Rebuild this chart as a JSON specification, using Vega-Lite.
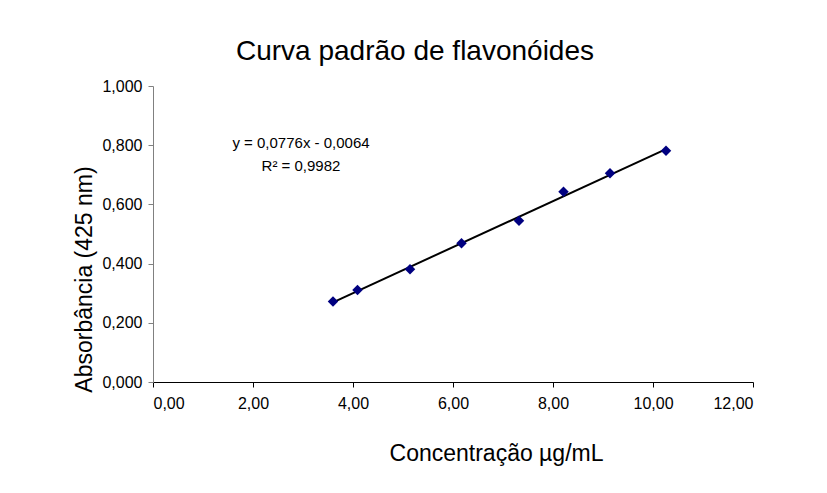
{
  "$schema": "https://vega.github.io/schema/vega-lite/v6.json",
  "autosize": {"type": "none"},
  "padding": {"left": 153, "top": 86, "right": 74, "bottom": 111},
  "width": 600,
  "height": 296,
  "background": "white",
  "title": {
    "text": "Curva padrão de flavonóides",
    "font": "Liberation Sans",
    "fontSize": 28,
    "fontWeight": "normal",
    "color": "#000000",
    "anchor": "middle",
    "dx": -38,
    "offset": 12
  },
  "data": {
    "values": [
      {"conc": 3.60, "abs": 0.272},
      {"conc": 4.09, "abs": 0.311},
      {"conc": 5.14, "abs": 0.381},
      {"conc": 6.17, "abs": 0.469},
      {"conc": 7.32, "abs": 0.545},
      {"conc": 8.21, "abs": 0.643},
      {"conc": 9.14, "abs": 0.705},
      {"conc": 10.26, "abs": 0.781}
    ]
  },
  "config": {
    "view": {"stroke": null},
    "axis": {
      "labelFont": "Liberation Sans",
      "titleFont": "Liberation Sans",
      "labelColor": "#000000",
      "titleColor": "#000000",
      "titleFontWeight": "normal",
      "grid": false,
      "tickSize": 5
    }
  },
  "layer": [
    {
      "transform": [{"regression": "abs", "on": "conc"}],
      "mark": {"type": "line", "color": "#000000", "strokeWidth": 2},
      "encoding": {
        "x": {"field": "conc", "type": "quantitative"},
        "y": {"field": "abs", "type": "quantitative"}
      }
    },
    {
      "mark": {"type": "point", "shape": "diamond", "filled": true, "color": "#000080", "size": 110, "opacity": 1},
      "encoding": {
        "x": {
          "field": "conc",
          "type": "quantitative",
          "scale": {"domain": [0, 12], "nice": false, "zero": true},
          "axis": {
            "values": [0, 2, 4, 6, 8, 10, 12],
            "labelExpr": "replace(format(datum.value, '.2f'), '.', ',')",
            "labelFontSize": 16,
            "labelPadding": 8,
            "domainColor": "#000000",
            "tickColor": "#000000",
            "title": "Concentração µg/mL",
            "titleFontSize": 23,
            "titleX": 343,
            "titleY": 78,
            "titleAlign": "center",
            "titleBaseline": "alphabetic"
          }
        },
        "y": {
          "field": "abs",
          "type": "quantitative",
          "scale": {"domain": [0, 1], "nice": false},
          "axis": {
            "values": [0, 0.2, 0.4, 0.6, 0.8, 1.0],
            "labelExpr": "replace(format(datum.value, '.3f'), '.', ',')",
            "labelFontSize": 16,
            "labelPadding": 6,
            "domainColor": "#808080",
            "tickColor": "#808080",
            "title": "Absorbância (425 nm)",
            "titleFontSize": 23,
            "titleX": -62,
            "titleY": 193,
            "titleAngle": -90,
            "titleAlign": "center",
            "titleBaseline": "alphabetic"
          }
        }
      }
    },
    {
      "data": {"values": [{"eq": "y = 0,0776x  - 0,0064", "r2": "R² = 0,9982"}]},
      "mark": {
        "type": "text",
        "font": "Liberation Sans",
        "fontSize": 15,
        "fontWeight": "normal",
        "color": "#000000",
        "align": "center",
        "baseline": "alphabetic",
        "lineHeight": 23
      },
      "encoding": {
        "x": {"datum": 2.96},
        "y": {"datum": 0.79},
        "text": {"value": ["y = 0,0776x  - 0,0064", "R² = 0,9982"]}
      }
    }
  ]
}
